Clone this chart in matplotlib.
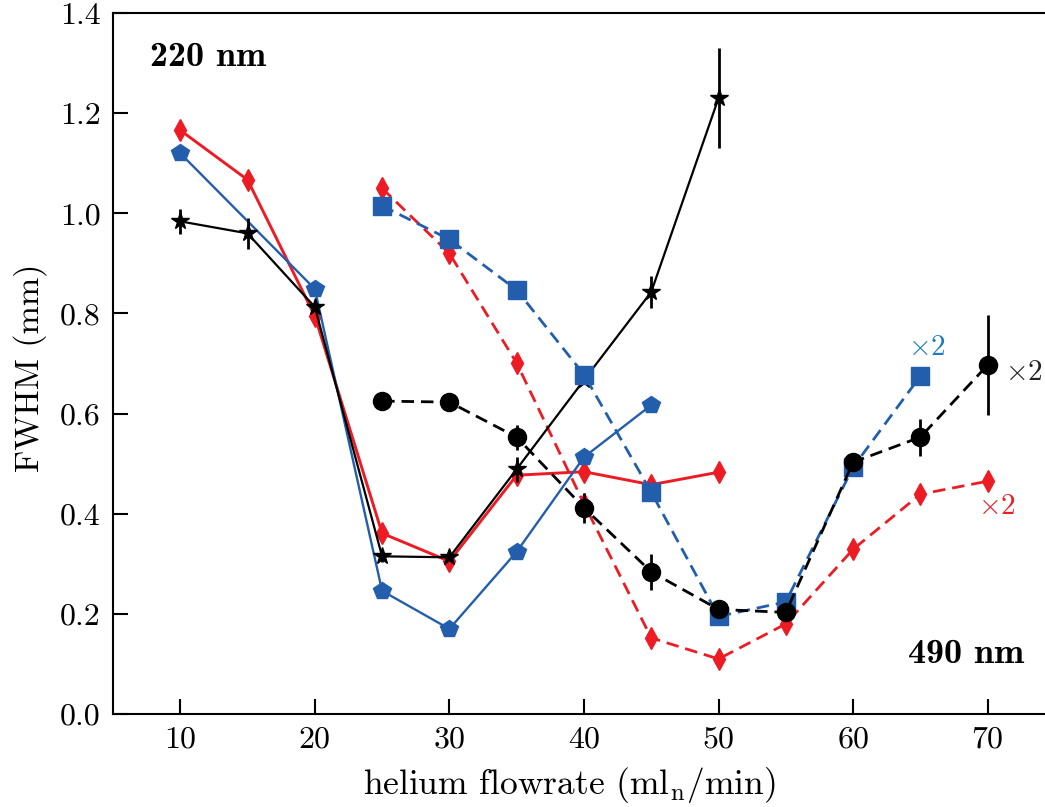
import matplotlib
matplotlib.use('Agg')
import matplotlib.pyplot as plt

plt.rcParams['font.family'] = ['cmr10', 'DejaVu Serif']
plt.rcParams['mathtext.fontset'] = 'cm'
plt.rcParams['axes.unicode_minus'] = False
plt.rcParams['axes.formatter.use_mathtext'] = True

RED = '#ED1C24'
BLUE = '#235EAD'
BLUE_TXT = '#1F7BC1'

# 220 nm (solid lines)
x_red_220 = [10, 15, 20, 25, 30, 35, 40, 45, 50]
y_red_220 = [1.166, 1.067, 0.795, 0.361, 0.305, 0.477, 0.484, 0.458, 0.483]

x_blue_220 = [10, 20, 25, 30, 35, 40, 45]
y_blue_220 = [1.120, 0.849, 0.246, 0.170, 0.324, 0.513, 0.617]

x_star_220 = [10, 15, 20, 25, 30, 35, 40, 45, 50]
y_star_220 = [0.984, 0.960, 0.813, 0.315, 0.313, 0.489, 0.667, 0.843, 1.230]
e_star_220 = [0.025, 0.031, 0.0, 0.012, 0.0, 0.025, 0.0, 0.032, 0.100]

# 490 nm (dashed lines)
x_red_490 = [25, 30, 35, 40, 45, 50, 55, 60, 65, 70]
y_red_490 = [1.050, 0.920, 0.701, 0.420, 0.152, 0.110, 0.180, 0.329, 0.439, 0.465]

x_blue_490 = [25, 30, 35, 40, 45, 50, 55, 60, 65]
y_blue_490 = [1.015, 0.948, 0.847, 0.678, 0.443, 0.195, 0.224, 0.493, 0.675]

x_circ_490 = [25, 30, 35, 40, 45, 50, 55, 60, 65, 70]
y_circ_490 = [0.625, 0.623, 0.553, 0.412, 0.284, 0.209, 0.203, 0.503, 0.553, 0.697]
e_circ_490 = [0.0, 0.0, 0.025, 0.030, 0.036, 0.0, 0.0, 0.0, 0.037, 0.099]

fig = plt.figure(figsize=(10.45, 8.07), dpi=100)
ax = fig.add_axes([0.1081, 0.1152, 0.9014, 0.8686])

dash = (4.5, 2.5)

ax.plot(x_red_220, y_red_220, '-', color=RED, lw=2.1, marker='d', ms=11, mec=RED, zorder=2)
ax.plot(x_blue_220, y_blue_220, '-', color=BLUE, lw=1.7, marker='p', ms=13, mec=BLUE, zorder=2.1)
ax.errorbar(x_star_220, y_star_220, yerr=e_star_220, fmt='-', color='black', lw=1.6,
            elinewidth=2.0, capsize=0, marker='*', ms=13, zorder=2.2)

ax.plot(x_red_490, y_red_490, '--', color=RED, lw=2.0, dashes=dash, marker='d', ms=11,
        mec=RED, zorder=2.3)
ax.plot(x_blue_490, y_blue_490, '--', color=BLUE, lw=2.0, dashes=dash, marker='s', ms=13,
        mec=BLUE, zorder=2.4)
ax.errorbar(x_circ_490, y_circ_490, yerr=e_circ_490, fmt='--', color='black', lw=2.0,
            dashes=dash, elinewidth=2.0, capsize=0, marker='o', ms=13, zorder=2.5)

ax.text(7.77, 1.312, '220 nm', family='cmb10', fontsize=26, va='center', ha='left')
ax.text(72.7, 0.118, '490 nm', family='cmb10', fontsize=26, va='center', ha='right')
ax.text(65.5, 0.731, r'$\times 2$', color=BLUE_TXT, fontsize=21, va='center', ha='center')
ax.text(71.3, 0.681, r'$\times 2$', color='#222222', fontsize=21, va='center', ha='left')
ax.text(70.7, 0.413, r'$\times 2$', color=RED, fontsize=21, va='center', ha='center')

ax.set_xlim(5, 75)
ax.set_ylim(0, 1.4)
ax.set_xticks([10, 20, 30, 40, 50, 60, 70])
ax.set_yticks([0.0, 0.2, 0.4, 0.6, 0.8, 1.0, 1.2, 1.4])
ax.set_yticklabels(['0.0', '0.2', '0.4', '0.6', '0.8', '1.0', '1.2', '1.4'])
ax.tick_params(direction='in', length=10.5, width=1.5, labelsize=23, pad=9)
for s in ax.spines.values():
    s.set_linewidth(1.5)

ax.set_xlabel(r'helium flowrate (ml$_\mathrm{n}$/min)', fontsize=25.5)
ax.set_ylabel('FWHM (mm)', fontsize=24.5)
ax.xaxis.set_label_coords(0.484, -0.073)
ax.yaxis.set_label_coords(-0.070, 0.4936)

fig.savefig('out.png', dpi=100)
